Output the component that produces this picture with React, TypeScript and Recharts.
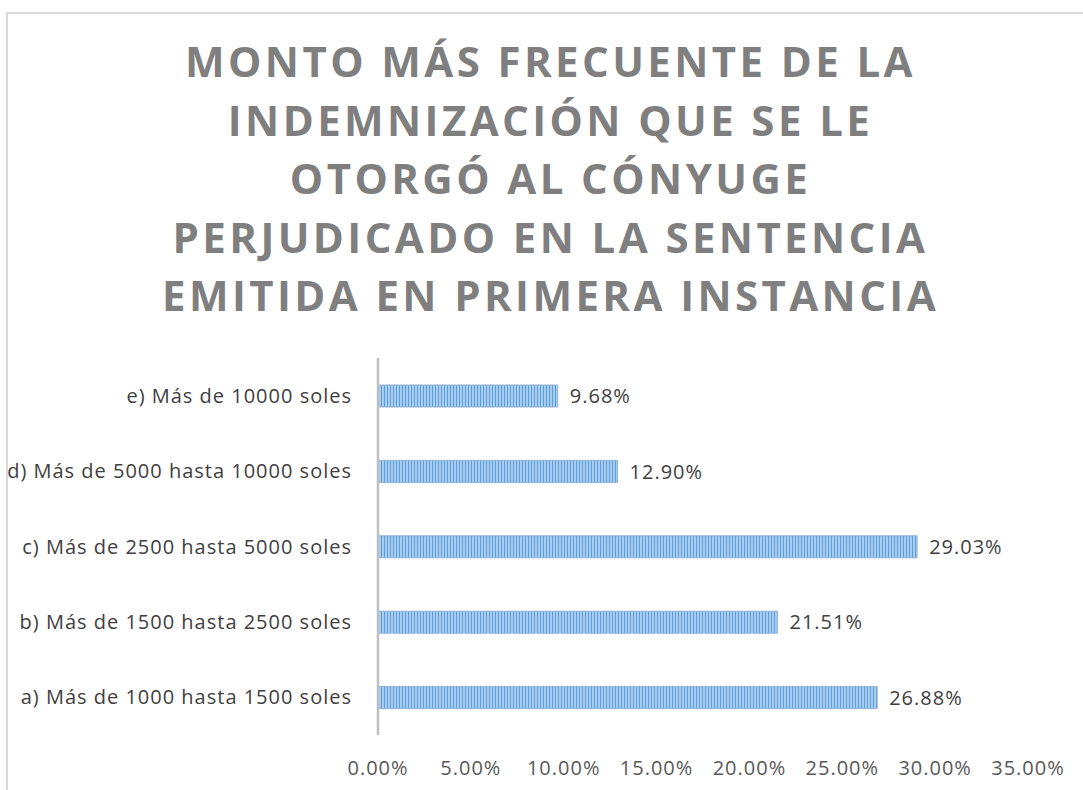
import React from 'react';
import { BarChart, Bar, XAxis, YAxis, LabelList } from 'recharts';

const categories = [
    'a) Más de 1000 hasta 1500 soles',
    'b) Más de 1500 hasta 2500 soles',
    'c) Más de 2500 hasta 5000 soles',
    'd) Más de 5000 hasta 10000 soles',
    'e) Más de 10000 soles',
];
const percentages = [26.88, 21.51, 29.03, 12.9, 9.68];
const xTicks = [0, 5, 10, 15, 20, 25, 30, 35];
const titleLines = [
    'MONTO MÁS FRECUENTE DE LA',
    'INDEMNIZACIÓN QUE SE LE',
    'OTORGÓ AL CÓNYUGE',
    'PERJUDICADO EN LA SENTENCIA',
    'EMITIDA EN PRIMERA INSTANCIA',
];

const data = categories.map((name, i) => ({ name, value: percentages[i] }));

const pct = (v: number) => `${Number(v).toFixed(2)}%`;
const font = '"Open Sans", sans-serif';
const labelStyle = { fontSize: 20, fontFamily: font, letterSpacing: 1 };

export default function App() {
    return (
        <div style={{ position: 'absolute', left: 0, top: 0, width: 1083, height: 790, overflow: 'hidden', background: '#fff' }}>
            {/* chart frame */}
            <div style={{ position: 'absolute', left: 6, top: 12, width: 1100, height: 800, border: '2px solid #d9d9d9' }} />
            <div
                style={{
                    position: 'absolute',
                    left: 9,
                    top: 32,
                    width: 1083,
                    textAlign: 'center',
                    fontFamily: font,
                    fontWeight: 700,
                    fontSize: 42,
                    lineHeight: '58.5px',
                    letterSpacing: 3.4,
                    color: '#7f7f7f',
                }}
            >
                {titleLines.map((l) => (
                    <div key={l}>{l}</div>
                ))}
            </div>
            <div style={{ position: 'absolute', left: 0, top: 0 }}>
                <BarChart
                    width={1083}
                    height={790}
                    layout="vertical"
                    data={data}
                    margin={{ top: 358, right: 55, bottom: 15, left: 8 }}
                    barCategoryGap={0}
                >
                    <defs>
                        <pattern id="stripes" width="3" height="4" patternUnits="userSpaceOnUse">
                            <rect width="3" height="4" fill="#a6cdf0" />
                            <rect width="1" height="4" fill="#5f9ed8" />
                        </pattern>
                    </defs>
                    <XAxis
                        type="number"
                        domain={[0, 35]}
                        ticks={xTicks}
                        tickFormatter={pct}
                        axisLine={false}
                        tickLine={false}
                        height={40}
                        tickMargin={20}
                        tick={{ fill: '#595959', ...labelStyle }}
                    />
                    <YAxis
                        type="category"
                        dataKey="name"
                        reversed
                        width={370}
                        axisLine={{ stroke: '#bfbfbf', strokeWidth: 2.5 }}
                        tickLine={false}
                        tickMargin={20}
                        tick={{ fill: '#404040', ...labelStyle }}
                    />
                    <Bar
                        dataKey="value"
                        fill="url(#stripes)"
                        stroke="#8fb3d6"
                        strokeWidth={1}
                        barSize={22}
                        isAnimationActive={false}
                    >
                        <LabelList
                            dataKey="value"
                            position="right"
                            offset={12}
                            formatter={(v: any) => pct(v)}
                            style={{ fill: '#404040', ...labelStyle }}
                        />
                    </Bar>
                </BarChart>
            </div>
        </div>
    );
}
